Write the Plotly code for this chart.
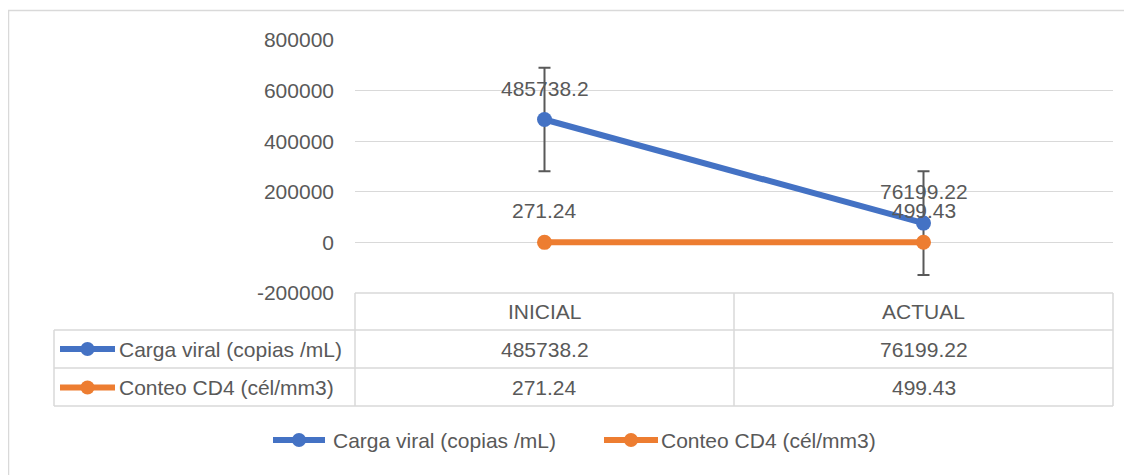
import plotly.graph_objects as go

# ---- data ----
categories = ["INICIAL", "ACTUAL"]
series_names = ["Carga viral (copias /mL)", "Conteo CD4 (cél/mm3)"]
carga_viral = [485738.2, 76199.22]
conteo_cd4 = [271.24, 499.43]
carga_error = [205000, 205000]
conteo_error = [114, 114]
y_ticks = [-200000, 0, 200000, 400000, 600000, 800000]

series_values = [carga_viral, conteo_cd4]
series_errors = [carga_error, conteo_error]
colors = ["#4472C4", "#ED7D31"]

# ---- layout geometry (pixels in the final screenshot; page body adds 8px) ----
OFF = 8
W, H = 1132 - OFF, 475 - OFF
L, R, T, B = 355 - OFF, 1113 - OFF, 40 - OFF, 293 - OFF
TEXT = "#595959"
GRID = "#D9D9D9"
FONT = "Liberation Sans"
FS = 21


def px_x(p):
    return (p - OFF - L) / (R - L)


def px_y(p):
    return (B - (p - OFF)) / (B - T)


fig = go.Figure()
for name, vals, errs, col in zip(series_names, series_values, series_errors, colors):
    fig.add_trace(go.Scatter(
        x=categories, y=vals, name=name, mode="lines+markers",
        line=dict(color=col, width=6),
        marker=dict(color=col, size=15),
        error_y=dict(type="data", array=errs, visible=True,
                     color="#595959", thickness=2, width=6),
        cliponaxis=False, showlegend=False,
    ))

shapes = []
annotations = []
fnt = dict(family=FONT, size=FS, color=TEXT)

# data labels
for vals in series_values:
    for c, v in zip(categories, vals):
        annotations.append(dict(x=c, y=v, xref="x", yref="y", text=str(v),
                                showarrow=False, yshift=31.5,
                                xanchor="center", yanchor="middle", font=fnt))

# outer chart border
shapes.append(dict(type="rect", xref="paper", yref="paper",
                   x0=px_x(8.5), x1=px_x(1180), y0=px_y(10.5), y1=px_y(520),
                   line=dict(color=GRID, width=1.5), layer="below"))

# data table lines
row_lines = [330, 368, 406]
line_style = dict(color=GRID, width=1.5)
shapes.append(dict(type="line", xref="paper", yref="paper", x0=0, x1=1,
                   y0=0, y1=0, line=line_style))
for yl in row_lines:
    shapes.append(dict(type="line", xref="paper", yref="paper",
                       x0=px_x(54), x1=1, y0=px_y(yl), y1=px_y(yl), line=line_style))
for xv in [0, 0.5, 1]:
    shapes.append(dict(type="line", xref="paper", yref="paper",
                       x0=xv, x1=xv, y0=0, y1=px_y(406), line=line_style))
shapes.append(dict(type="line", xref="paper", yref="paper",
                   x0=px_x(54), x1=px_x(54), y0=px_y(330), y1=px_y(406), line=line_style))

# header
for c in categories:
    annotations.append(dict(x=c, y=px_y(311.5), xref="x", yref="paper", text=c,
                            showarrow=False, xanchor="center", yanchor="middle", font=fnt))

row_y = [349, 387.5]


def icon(cx0, cx1, cy, col):
    shapes.append(dict(type="line", xref="paper", yref="paper",
                       x0=px_x(cx0), x1=px_x(cx1), y0=px_y(cy), y1=px_y(cy),
                       line=dict(color=col, width=6)))
    mid = (cx0 + cx1) / 2
    shapes.append(dict(type="circle", xref="paper", yref="paper",
                       x0=px_x(mid - 7), x1=px_x(mid + 7), y0=px_y(cy - 7), y1=px_y(cy + 7),
                       fillcolor=col, line=dict(color=col, width=0)))


for name, vals, col, ry in zip(series_names, series_values, colors, row_y):
    icon(60, 115, ry, col)
    annotations.append(dict(x=px_x(117), y=px_y(ry), xref="paper", yref="paper",
                            xanchor="left", yanchor="middle", text=name,
                            showarrow=False, font=fnt))
    for c, v in zip(categories, vals):
        annotations.append(dict(x=c, y=px_y(ry), xref="x", yref="paper", text=str(v),
                                showarrow=False, xanchor="center", yanchor="middle",
                                font=fnt))

# legend
leg_y = 440
leg_items = [(273, 325, 331), (604, 658, 659)]
for name, col, (a, b, tx) in zip(series_names, colors, leg_items):
    icon(a, b, leg_y, col)
    annotations.append(dict(x=px_x(tx), y=px_y(leg_y), xref="paper", yref="paper",
                            xanchor="left", yanchor="middle", text=name,
                            showarrow=False, font=fnt))

fig.update_layout(
    width=W, height=H,
    margin=dict(l=L, r=W - R, t=T, b=H - B, pad=0),
    paper_bgcolor="white", plot_bgcolor="white",
    font=fnt,
    showlegend=False,
    shapes=shapes, annotations=annotations,
    xaxis=dict(type="category", categoryarray=categories, range=[-0.5, 1.5],
               showticklabels=False, showgrid=False, zeroline=False, showline=False),
    yaxis=dict(range=[-200000, 800000], tickvals=y_ticks,
               ticktext=[str(t) for t in y_ticks], showgrid=True, gridcolor=GRID,
               gridwidth=1.3, zeroline=False, showline=False, ticks="",
               ticklabelstandoff=20, tickfont=fnt),
)

fig.write_html("out.html")
